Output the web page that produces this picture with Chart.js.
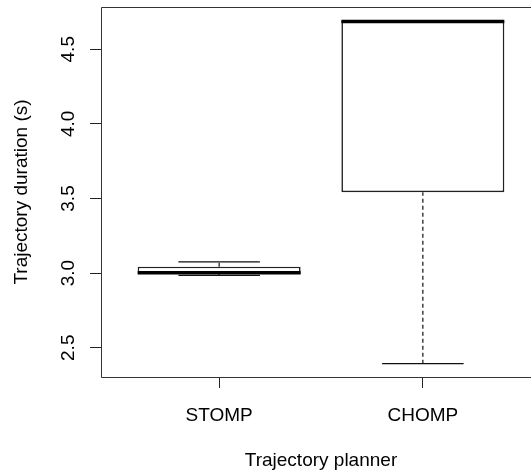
<!DOCTYPE html>
<html>
<head>
<meta charset="utf-8">
<script src="https://cdn.jsdelivr.net/npm/chart.js@4"></script>
<style>
  html, body { margin: 0; background: #fff; overflow: hidden; }
  .wrap { width: 531px; height: 472px; overflow: hidden; }
  canvas { display: block; }
</style>
</head>
<body>
<div class="wrap">
  <canvas id="boxChart" width="541" height="472"></canvas>
</div>
<script>
const categories = ["STOMP", "CHOMP"];
const lowerWhisker = [2.985, 2.393];
const q1 = [2.994, 3.542];
const median = [3.002, 4.686];
const q3 = [3.043, 4.692];
const upperWhisker = [3.076, 4.692];
const yTicks = [2.5, 3.0, 3.5, 4.0, 4.5];

const boxWidth = 0.8;
const capWidth = 0.4;
const fontFamily = "'Liberation Sans', Arial, sans-serif";

const boxData = categories.map((c, i) => ({ x: i + 1, y: [q1[i], q3[i]] }));

const whiskerData = [];
const capData = [];
const medianData = [];
categories.forEach((c, i) => {
  const x = i + 1;
  whiskerData.push({ x, y: q3[i] }, { x, y: upperWhisker[i] }, { x, y: null });
  whiskerData.push({ x, y: lowerWhisker[i] }, { x, y: q1[i] }, { x, y: null });
  capData.push({ x: x - capWidth / 2, y: upperWhisker[i] }, { x: x + capWidth / 2, y: upperWhisker[i] }, { x, y: null });
  capData.push({ x: x - capWidth / 2, y: lowerWhisker[i] }, { x: x + capWidth / 2, y: lowerWhisker[i] }, { x, y: null });
  medianData.push({ x: x - boxWidth / 2, y: median[i] }, { x: x + boxWidth / 2, y: median[i] }, { x, y: null });
});

// box round the plot region, like R's box(); right side falls off the page
const frame = {
  id: "frame",
  afterDraw(chart) {
    const { ctx, chartArea } = chart;
    const l = chartArea.left + 0.5;
    const t = chartArea.top + 0.5;
    const b = chartArea.bottom + 0.5;
    const r = chart.width;
    ctx.save();
    ctx.strokeStyle = "#333";
    ctx.lineWidth = 1;
    ctx.beginPath();
    ctx.moveTo(r, t);
    ctx.lineTo(l, t);
    ctx.lineTo(l, b);
    ctx.lineTo(r, b);
    ctx.stroke();
    ctx.restore();
  },
};

const lineStyle = { type: "line", pointRadius: 0, spanGaps: false, borderColor: "#111", fill: false };

new Chart(document.getElementById("boxChart"), {
  type: "bar",
  data: {
    datasets: [
      {
        data: boxData,
        backgroundColor: "#fff",
        borderColor: "#222",
        borderWidth: 1.6,
        borderSkipped: false,
        barPercentage: boxWidth,
        categoryPercentage: 1,
        order: 3,
      },
      { ...lineStyle, data: whiskerData, borderWidth: 1.2, borderDash: [4, 3], order: 4 },
      { ...lineStyle, data: capData, borderWidth: 1.3, order: 2 },
      { ...lineStyle, data: medianData, borderWidth: 3.5, borderColor: "#000", borderCapStyle: "butt", order: 1 },
    ],
  },
  options: {
    responsive: false,
    animation: false,
    layout: { padding: { top: 7, left: 0, right: 0, bottom: 0 } },
    plugins: {
      legend: { display: false },
      tooltip: { enabled: false },
    },
    scales: {
      x: {
        type: "linear",
        offset: false,
        min: 0.42,
        max: 2.58,
        afterBuildTicks: (scale) => {
          scale.ticks = categories.map((c, i) => ({ value: i + 1 }));
        },
        afterFit: (scale) => {
          scale.height = 95;
          scale.paddingLeft = 0;
          scale.paddingRight = 0;
        },
        grid: { offset: false, drawOnChartArea: false, tickLength: 11, tickColor: "#222", color: "#222" },
        border: { display: false },
        ticks: {
          padding: 16,
          maxRotation: 0,
          autoSkip: false,
          color: "#000",
          font: { family: fontFamily, size: 19 },
          callback: (v) => categories[v - 1],
        },
        title: {
          display: true,
          text: "Trajectory planner",
          color: "#000",
          padding: { top: 0, bottom: 0 },
          font: { family: fontFamily, size: 19 },
        },
      },
      y: {
        min: 2.304,
        max: 4.783,
        afterBuildTicks: (scale) => {
          scale.ticks = yTicks.map((v) => ({ value: v }));
        },
        afterFit: (scale) => {
          scale.width = 101;
          scale.paddingTop = 0;
          scale.paddingBottom = 0;
        },
        grid: { drawOnChartArea: false, tickLength: 11, tickColor: "#222", color: "#222" },
        border: { display: false },
        ticks: {
          padding: 8,
          minRotation: 90,
          maxRotation: 90,
          crossAlign: "center",
          color: "#000",
          font: { family: fontFamily, size: 19 },
          callback: (v) => v.toFixed(1),
        },
        title: {
          display: true,
          text: "Trajectory duration (s)",
          color: "#000",
          padding: { top: 10, bottom: 0 },
          font: { family: fontFamily, size: 19 },
        },
      },
    },
  },
  plugins: [frame],
});
</script>
</body>
</html>
